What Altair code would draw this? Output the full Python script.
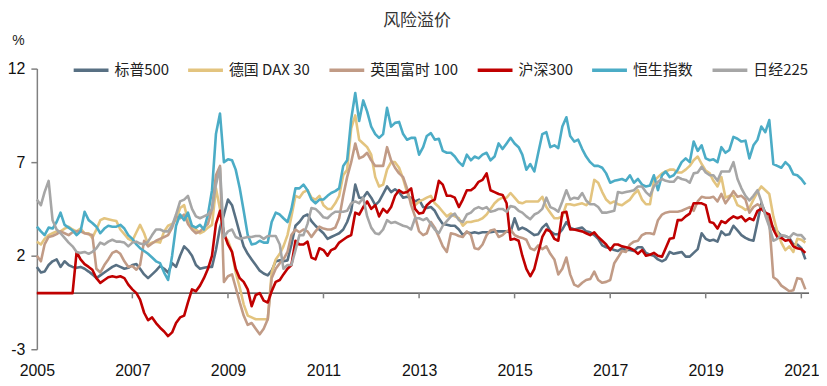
import altair as alt
import pandas as pd

# Monthly data, Jan 2005 .. Feb 2021 (194 months)
months = pd.date_range("2005-01-01", periods=194, freq="MS")

series_names = ["标普500", "德国 DAX 30", "英国富时 100", "沪深300", "恒生指数", "日经225"]
series_colors = ["#587083", "#e3c47f", "#c19b86", "#c00000", "#4bacc6", "#a6a6a6"]

spx500 = [
    1.4, 1.1, 1.15, 1.5, 1.7, 1.8, 1.4, 1.7, 1.5, 1.4,
    1.35, 1.4, 1.3, 1.15, 1.0, 0.8, 0.95, 1.1, 1.25, 1.4,
    1.5, 1.4, 1.3, 1.35, 1.5, 1.55, 1.3, 1.0, 0.8, 1.0,
    1.2, 1.45, 1.3, 1.1, 1.6, 1.4, 2.0, 2.5, 2.3, 2.0,
    1.5, 1.3, 1.35, 1.4, 1.4, 2.3, 3.5, 4.2, 5.0, 4.7,
    4.0, 3.2, 2.5, 2.1, 1.8, 1.5, 1.2, 1.05, 0.95, 1.2,
    1.7, 1.75, 1.7, 1.75, 2.6, 3.6, 3.8, 4.1, 4.2, 3.85,
    3.6, 3.4, 3.2, 2.9, 3.0, 3.1, 3.2, 3.4, 3.8, 4.4,
    5.8, 5.1, 5.1, 5.4, 5.1, 4.7, 4.9, 5.3, 5.7, 5.4,
    5.55, 5.4, 5.1, 5.15, 5.1, 4.9, 5.0, 4.6, 4.55, 4.6,
    4.4, 4.0, 3.7, 3.65, 3.6, 3.6, 3.4, 3.1, 3.25, 3.2,
    3.25, 3.2, 3.25, 3.25, 3.25, 3.3, 3.3, 3.3, 3.3, 3.25,
    4.0, 3.4, 3.5, 3.4, 3.25, 3.1, 3.15, 3.5, 3.7, 3.3,
    3.15, 3.15, 3.4, 3.8, 3.5, 3.4, 3.45, 3.5, 3.3, 3.25,
    3.1, 2.9, 2.55, 2.45, 2.4, 2.3, 2.25, 2.4, 2.3, 2.3,
    2.25, 2.45, 2.45, 2.15, 2.05, 2.0, 1.8, 1.7, 1.8, 2.2,
    2.1, 2.15, 2.2, 1.95, 1.95, 2.15, 2.35, 3.2, 2.9, 2.8,
    2.85, 2.75, 3.3, 3.1, 3.15, 3.6, 3.35, 3.1, 2.95, 2.85,
    2.8, 3.8, 4.8, 4.3, 3.8, 3.5, 3.3, 3.05, 3.05, 2.95,
    2.6, 2.6, 2.4, 1.8,
]

dax30 = [
    2.75, 2.6, 2.9, 3.1, 3.2, 3.3, 3.3, 3.45, 3.55, 3.4,
    3.3, 3.45, 3.2, 3.2, 2.95, 3.4, 3.9, 4.0, 3.95, 3.9,
    3.85, 3.4, 3.15, 2.9, 2.8, 3.25, 3.65, 3.2, 2.6, 2.7,
    2.75, 2.7, 3.3, 3.6, 3.7, 3.9, 4.55, 4.7, 3.9, 3.55,
    3.4, 3.2, 3.3, 3.5, 3.65, 5.6, 4.5, 3.1, 2.8, 2.2,
    1.1, 0.3, -0.6, -1.2, -1.3, -1.4, -1.4, -1.4, -1.4, 1.1,
    1.8, 2.1, 2.5, 3.1, 4.1, 5.2, 5.1, 5.4, 5.5, 5.1,
    5.0, 5.2, 4.7, 4.5, 4.5, 4.8, 5.2, 6.3, 6.6, 8.8,
    9.5, 8.2, 8.0, 7.8, 7.4, 6.2, 5.7, 5.8, 6.6, 7.0,
    7.0, 6.7, 6.1, 5.4, 4.9, 4.7, 4.9, 5.0, 5.1, 5.2,
    4.8, 4.6, 4.35, 4.1, 4.25, 4.1, 4.0, 3.6, 3.8, 3.8,
    3.85, 3.9, 4.0, 4.2, 4.5, 4.8, 5.0, 5.1, 5.1, 5.35,
    5.1, 4.85, 4.8, 4.9, 4.9, 4.9, 4.9, 5.15, 4.6, 4.3,
    4.0, 4.0, 4.1, 4.75, 4.75, 4.7, 4.75, 4.8, 4.7, 4.9,
    6.05, 5.9, 5.4, 5.0, 4.8, 4.9, 4.75, 4.7, 4.85, 5.0,
    5.3, 5.5, 5.0, 4.75, 4.75, 6.0, 6.2, 6.4, 6.5, 6.6,
    6.6, 6.45, 6.45, 6.6, 6.8, 7.1, 7.3, 6.9, 6.55, 6.4,
    6.0, 5.7, 6.2, 5.1, 5.2, 5.2, 4.7, 4.6, 4.45, 4.55,
    5.0, 5.4, 5.7, 5.5, 5.3, 4.1, 3.3, 2.7, 2.3, 2.5,
    2.2, 2.9, 2.85, 2.7,
]

ftse100 = [
    2.0, 1.7, 2.6, 3.0, 3.05, 3.15, 3.3, 3.2, 3.1, 3.25,
    3.3, 3.3, 3.2, 3.15, 3.1, 1.3, 1.1, 1.5, 1.8, 2.15,
    2.25, 2.1, 1.7, 1.4, 1.45, 1.25, 1.5, 2.8, 2.5, 2.65,
    2.8, 2.9, 3.0, 3.1, 3.5, 4.1, 4.0, 4.2, 3.7, 3.4,
    3.2, 3.3, 3.5, 3.7, 4.5, 6.3, 6.8, 0.6, 0.9, 1.0,
    0.3, -0.5, -1.2, -1.7, -1.6, -1.9, -2.2, -1.9, -1.4, 0.8,
    1.3, 1.6, 1.8, 2.2, 3.1, 3.4, 3.25, 3.4, 3.3, 3.0,
    3.3, 3.55, 3.45, 3.4, 3.4, 3.5, 4.0, 5.2, 6.2, 7.0,
    8.0, 7.2, 7.3, 7.5, 7.1, 6.8, 6.8, 6.8, 7.8, 7.1,
    6.7, 6.4, 6.2, 5.6, 4.7, 4.1, 3.3, 3.1, 3.2, 3.8,
    3.5, 3.0, 2.5, 2.2, 3.2, 3.15, 3.05, 3.0, 3.3, 3.1,
    2.4, 2.35, 2.6, 3.1, 3.35, 3.4, 3.0, 3.1, 3.3, 3.4,
    3.1, 3.0, 2.95, 2.85, 2.4, 2.3, 2.55, 2.35, 2.5, 2.1,
    1.8, 1.0, 1.3, 1.9, 1.0, 0.45, 0.35, 0.55, 0.7, 0.75,
    1.15, 0.7, 0.55, 0.6, 0.7, 1.6, 1.9, 2.25, 2.2, 2.6,
    2.75, 2.8, 3.1, 3.2, 3.2, 3.15, 3.9, 4.2, 4.3, 4.35,
    4.35, 4.35, 4.4, 4.5, 4.6, 4.4, 4.9, 5.15, 5.1, 5.1,
    5.15, 4.9, 5.3, 4.8, 5.1, 5.45, 5.15, 5.2, 5.0, 4.3,
    4.6, 4.75, 4.6, 4.3, 3.8, 0.85, 0.7, 0.4, 0.25, 0.1,
    0.15, 0.8, 0.75, 0.2,
]

csi300 = [
    0, 0, 0, 0, 0, 0, 0, 0, 0, 0,
    2.2, 1.8, 1.55, 1.4, 1.25, 0.8, 0.55, 0.7, 0.85, 0.9,
    0.85, 0.9, 0.8, 0.45, 0.2, 0.0, -0.35, -1.05, -1.45, -1.3,
    -1.6, -1.85, -2.05, -2.3, -2.1, -1.6, -1.3, -1.2, -0.5, 0.2,
    0.1, 0.4, 0.8, 1.3, 2.0, 3.7, 4.4, 3.2, 2.6, 2.2,
    1.3, 0.8, 0.6, 0.2, -0.7, -0.1, 0.0, -0.4, -0.5, 0.1,
    0.6, 0.7, 1.0, 1.3, 1.5, 2.8, 2.6, 2.6, 2.75, 1.9,
    1.8, 2.4, 2.3, 2.0, 2.3, 2.4, 2.7, 2.85, 3.0, 3.1,
    4.3, 4.2, 4.6, 4.9, 4.5, 4.7, 4.1, 4.5, 4.3, 4.6,
    5.2, 5.5, 5.35, 5.4, 5.6, 4.5, 4.25, 4.3, 4.7, 4.9,
    5.0, 6.0, 5.8, 5.2, 5.2, 5.1, 4.6, 5.0, 5.5, 5.5,
    5.65, 5.95, 6.05, 6.4, 5.5, 5.4, 5.3, 5.25, 4.8, 2.85,
    2.9, 2.8, 2.0, 1.3, 0.9, 1.3, 2.15, 3.0, 3.4, 3.3,
    2.9, 2.8, 4.3, 4.35, 3.4, 3.4, 3.35, 3.3, 3.2, 3.1,
    3.25, 3.0, 2.8, 2.6, 2.3, 2.6, 2.6, 2.5, 2.45, 2.4,
    2.3, 2.1, 2.3, 2.0, 2.05, 2.15, 2.0, 1.95, 2.4, 2.9,
    2.95, 3.9, 3.9, 4.1, 4.25, 4.8, 4.8, 4.8, 4.7, 3.8,
    3.75, 3.45, 3.85, 3.75, 3.95, 4.1, 4.0, 4.1, 3.85, 4.0,
    3.9, 4.4, 4.5, 4.3, 4.2, 3.4, 3.0, 2.95, 2.8, 2.85,
    2.5, 2.4, 2.35, 2.15,
]

hsi = [
    3.55, 3.3, 3.1, 3.5, 3.45, 3.8, 4.3, 3.65, 3.5, 3.35,
    3.1, 3.3, 4.35, 3.9, 3.75, 3.55, 3.2, 3.45, 3.6, 3.55,
    3.55, 3.65, 3.45, 3.1, 2.9, 2.6, 2.4, 2.25, 2.1, 1.9,
    1.7, 1.6, 1.1, 0.7, 2.0, 3.6, 4.2, 3.9, 4.3, 3.6,
    3.5, 3.65, 3.4, 4.2, 5.5, 8.5, 9.6, 7.0, 7.15, 7.1,
    6.6, 5.6, 4.4, 3.1, 2.6, 2.65, 2.8, 2.7, 2.7, 3.8,
    4.3, 4.2, 4.0, 3.8, 4.5, 5.6, 5.6, 5.8, 5.5, 5.0,
    4.8, 5.0, 5.0, 5.2, 5.35, 5.45, 5.6, 6.8, 7.1, 9.3,
    10.7, 9.2, 10.3, 9.7, 8.9, 8.5, 8.3, 8.5, 9.9, 8.9,
    9.1, 9.15, 8.5, 8.2, 8.3, 8.3, 7.4, 7.8, 8.4, 8.55,
    8.2, 8.25, 7.6, 7.5, 7.5, 7.3, 7.0, 6.8, 7.4, 7.1,
    7.3, 7.2, 7.4, 7.5, 7.1, 7.3, 8.0, 7.7, 8.0, 8.3,
    8.0, 7.8, 7.4, 6.6, 6.9, 6.5, 7.5, 8.5, 8.6, 7.8,
    7.9, 7.75, 8.9, 9.4, 8.4, 8.1, 8.2, 7.7, 7.3, 7.0,
    6.8, 6.8, 6.7, 6.4, 5.9, 6.0, 6.05, 6.1, 6.0, 6.3,
    5.9, 6.1, 5.8, 5.7, 5.75, 6.3, 5.5, 6.3, 6.5, 6.2,
    6.3, 6.6, 7.0, 7.2, 7.0, 8.1, 7.6, 7.9, 7.2, 7.1,
    7.15, 7.0, 7.8, 7.5, 7.65, 8.35, 8.25, 8.1, 8.15, 7.2,
    7.9, 8.2, 8.9, 8.6, 9.25, 6.9, 6.8, 6.7, 7.0, 6.8,
    6.35, 6.3, 6.1, 5.8,
]

nikkei225 = [
    5.0, 4.7, 5.4, 6.0, 3.9, 3.4, 3.2, 2.95, 2.7, 2.5,
    2.2, 2.15, 2.2, 2.1, 2.2, 2.4, 2.7, 2.6, 2.75, 2.85,
    2.75, 2.75, 2.7, 2.5, 2.7, 2.75, 2.65, 2.6, 2.75, 3.1,
    3.4, 3.4, 3.3, 3.3, 3.6, 4.2, 4.9, 5.0, 5.2, 4.5,
    4.1, 4.0, 4.1, 4.2, 4.5, 5.8, 6.7, 3.0, 3.3, 3.4,
    3.0, 2.9, 2.95, 3.0, 3.0, 3.05, 3.05, 2.9, 3.05, 3.05,
    3.05, 2.6, 1.3, 1.5, 1.5, 2.3, 3.1, 3.1, 3.7, 4.55,
    4.5, 4.3, 4.05, 4.0, 4.2, 4.35, 4.35, 4.35, 4.4, 4.8,
    4.9, 4.8, 5.1, 4.1, 3.5, 3.2, 3.15, 3.4, 3.9, 3.75,
    3.8, 3.7, 3.6, 3.55, 3.4, 4.0, 4.0, 3.9, 4.0, 3.7,
    3.4, 3.2, 3.6, 3.85, 4.1, 4.25, 3.9, 3.8, 4.2, 4.3,
    4.5, 4.6, 4.5, 4.6, 4.35, 4.4, 4.5, 4.5, 4.35, 4.65,
    4.6, 4.4, 4.3, 4.1, 3.95, 4.2, 4.3, 4.5, 5.1, 4.6,
    4.5, 4.35, 4.9, 5.5, 5.0, 5.1, 5.05, 5.35, 4.95, 4.75,
    4.75, 4.6, 4.3, 4.3, 4.35, 4.4, 5.4, 5.35, 5.4, 5.45,
    5.5, 5.7, 5.7, 5.4, 5.2, 5.7, 5.95, 6.1, 6.0, 5.95,
    5.95, 6.2, 6.1, 6.05, 5.9, 6.4, 6.45, 6.75, 6.45, 6.3,
    6.3, 6.0, 6.5, 6.5, 6.5, 7.0, 6.1, 5.6, 5.2, 4.95,
    5.2, 5.5, 4.9, 4.15, 3.55, 2.8, 2.9, 3.1, 3.05, 2.95,
    3.2, 3.1, 3.1, 2.85,
]

year_labels = [2005, 2007, 2009, 2011, 2013, 2015, 2017, 2019, 2021]
y_ticks = [-3, 2, 7, 12]

all_values = [spx500, dax30, ftse100, csi300, hsi, nikkei225]
frames = []
for name, vals in zip(series_names, all_values):
    frames.append(pd.DataFrame({"date": months, "series": name, "value": vals}))
df = pd.concat(frames, ignore_index=True)

zero_df = pd.DataFrame({"v": [0]})
tick_df = pd.DataFrame({
    "d": pd.to_datetime([f"{y}-01-01" for y in year_labels[1:]]),
    "y0": [0.0] * (len(year_labels) - 1),
    "y1": [-0.28] * (len(year_labels) - 1),
})

cjk = "Noto Sans CJK SC"
num_font = "Liberation Sans"

x_scale = alt.Scale(domain=[alt.DateTime(year=2005, month=1, date=1),
                            alt.DateTime(year=2021, month=3, date=1)])
y_scale = alt.Scale(domain=[-3, 12], nice=False, zero=False)

x_axis = alt.Axis(
    values=[alt.DateTime(year=y, month=1, date=1) for y in year_labels],
    format="%Y", title=None, grid=False, domain=False, ticks=False, tickSize=0,
    labelPadding=13, labelFontSize=16, labelFont=num_font, labelColor="#111111",
    labelFlush=False, labelOverlap=False,
)
y_axis = alt.Axis(
    values=y_ticks, title="%", titleAngle=0, titleX=-19, titleY=-28,
    titleFontSize=14, titleFontWeight="normal", titleFont=num_font, titleColor="#222222",
    titleAlign="center", titleBaseline="middle",
    labelExpr="'' + datum.value",
    labelFontSize=16, labelFont=num_font, labelColor="#111111", labelPadding=6,
    domainColor="#808080", domainWidth=1.5, tickColor="#808080", tickWidth=1.5,
    tickSize=6, grid=False,
)

zero_rule = alt.Chart(zero_df).mark_rule(color="#000000", strokeWidth=1).encode(
    y=alt.Y("v:Q", scale=y_scale, axis=y_axis)
)
year_ticks = alt.Chart(tick_df).mark_rule(color="#808080", strokeWidth=1.5).encode(
    x=alt.X("d:T", scale=x_scale, axis=x_axis),
    y=alt.Y("y0:Q", scale=y_scale, axis=y_axis),
    y2="y1:Q",
)

lines = alt.Chart(df).mark_line(strokeWidth=2.6, strokeJoin="round").encode(
    x=alt.X("date:T", scale=x_scale, axis=x_axis),
    y=alt.Y("value:Q", scale=y_scale, axis=y_axis),
    color=alt.Color(
        "series:N",
        sort=series_names,
        scale=alt.Scale(domain=series_names, range=series_colors),
        legend=alt.Legend(
            orient="none", legendX=35, legendY=-18, direction="horizontal",
            title=None, symbolType="stroke", symbolSize=1225, symbolStrokeWidth=3.5,
            labelFontSize=15, labelFont=cjk, labelColor="#222222", labelOffset=4,
            columnPadding=12, labelLimit=0, padding=0,
        ),
    ),
)

chart = alt.layer(zero_rule, year_ticks, lines).properties(
    width=776,
    height=282,
    title=alt.TitleParams("风险溢价", font=cjk, fontSize=17, fontWeight="normal",
                          color="#333333", anchor="middle", offset=4, dx=-6),
    autosize=alt.AutoSizeParams(type="none"),
    padding={"left": 29, "top": 60, "right": 10, "bottom": 28},
).configure_view(stroke=None)

chart.save("out.html", embed_options={"renderer": "svg", "actions": False})
